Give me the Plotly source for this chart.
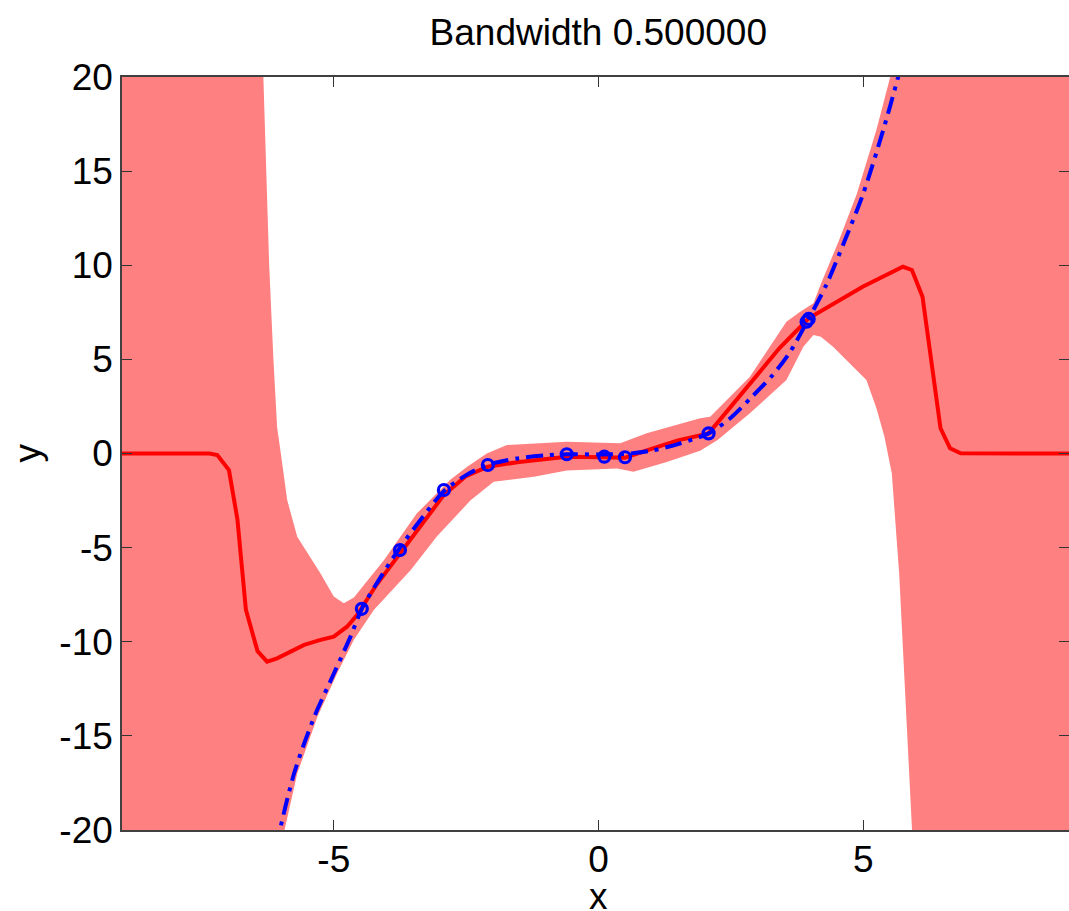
import plotly.graph_objects as go

# Observed data points (blue circles)
obs_x = [-4.47, -3.75, -2.92, -2.09, -0.60, 0.11, 0.50, 2.08, 3.93, 3.97]
obs_y = [-8.25, -5.13, -1.94, -0.61, -0.04, -0.17, -0.20, 1.07, 7.00, 7.15]

# True function (blue dash-dot)
true_x = [-6.10, -5.75, -5.37, -5.00, -4.68, -4.47, -4.10, -3.75, -3.30, -2.92, -2.50,
          -2.09, -1.50, -1.00, -0.60, 0.00, 0.50, 1.00, 1.50, 2.08, 2.50, 2.86, 3.30,
          3.62, 3.93, 4.31, 4.65, 5.00, 5.38, 5.66, 5.80]
true_y = [-21.0, -17.0, -14.0, -11.7, -9.7, -8.25, -6.5, -5.0, -3.3, -2.0, -1.15,
          -0.6, -0.25, -0.1, -0.04, -0.05, -0.02, 0.15, 0.5, 1.07, 1.9, 2.9, 4.2,
          5.4, 6.95, 9.0, 11.3, 13.8, 17.2, 20.0, 21.5]

# Predictive mean (red line)
mean_x = [-9.0, -7.35, -7.20, -6.98, -6.82, -6.66, -6.44, -6.26, -6.07, -5.56, -5.25,
          -5.00, -4.75, -4.56, -4.20, -3.74, -3.30, -2.92, -2.50, -2.09, -1.50, -1.00,
          -0.60, 0.11, 0.50, 1.00, 1.50, 2.08, 2.86, 3.42, 3.97, 4.99, 5.75, 5.92,
          6.12, 6.29, 6.46, 6.64, 6.84, 9.0]
mean_y = [0.0, 0.0, -0.08, -0.88, -3.5, -8.3, -10.5, -11.06, -10.88, -10.17, -9.9,
          -9.73, -9.2, -8.58, -7.0, -5.3, -3.6, -2.2, -1.2, -0.7, -0.45, -0.3,
          -0.17, -0.2, -0.22, 0.25, 0.7, 1.07, 3.7, 5.6, 7.18, 8.86, 9.92, 9.75,
          8.33, 4.97, 1.34, 0.28, 0.01, 0.0]

# Confidence band, upper boundary
upper_x = [-9.5, -6.40, -6.33, -6.28, -6.22, -6.14, -6.07, -6.00, -5.88, -5.69, -5.25, -5.00,
           -4.81, -4.62, -4.05, -3.43, -2.80, -2.48, -2.11, -1.73, -0.60, 0.41, 0.91,
           1.92, 2.11, 2.86, 3.55, 3.81, 4.06, 4.20, 4.54, 4.88, 5.25, 5.51, 5.70, 9.5]
upper_y = [60.0, 30.0, 20.0, 15.0, 10.0, 5.0, 1.4, 0.0, -2.47, -4.42, -6.37, -7.6,
           -7.96, -7.65, -5.66, -3.18, -1.4, -0.7, 0.0, 0.45, 0.63, 0.54, 1.07,
           1.87, 1.95, 4.08, 7.0, 7.53, 7.98, 9.0, 11.3, 13.8, 17.2, 20.0, 30.0, 60.0]

# Confidence band, lower boundary
lower_x = [-9.5, -6.20, -5.93, -5.69, -5.31, -4.94, -4.62, -4.24, -3.55, -3.05, -2.42,
           -1.98, -1.22, -0.60, 0.35, 0.66, 1.29, 1.92, 2.25, 2.86, 3.55, 3.87, 4.06,
           4.20, 4.43, 5.06, 5.25, 5.40, 5.54, 5.68, 5.78, 5.88, 5.92, 6.10, 9.5]
lower_y = [-60.0, -30.0, -20.0, -17.0, -14.0, -11.7, -9.9, -8.3, -6.2, -4.4, -2.5,
           -1.5, -1.23, -0.9, -0.8, -0.97, -0.45, 0.15, 0.72, 2.14, 3.9, 5.67, 6.29,
           6.2, 5.67, 3.9, 2.4, 0.9, -1.05, -6.4, -11.7, -17.0, -20.0, -30.0, -60.0]

x_ticks = [-5, 0, 5]
x_tick_labels = ["-5", "0", "5"]
y_ticks = [-20, -15, -10, -5, 0, 5, 10, 15, 20]
y_tick_labels = ["-20", "-15", "-10", "-5", "0", "5", "10", "15", "20"]

FONT = "Liberation Sans, Arial, sans-serif"

fig = go.Figure()

fig.add_trace(go.Scatter(
    x=upper_x + lower_x[::-1], y=upper_y + lower_y[::-1],
    fill="toself", fillcolor="#ff8080", line=dict(width=0),
    mode="lines", hoverinfo="skip", showlegend=False))

fig.add_trace(go.Scatter(
    x=mean_x, y=mean_y, mode="lines",
    line=dict(color="#ff0000", width=4), showlegend=False))

fig.add_trace(go.Scatter(
    x=true_x, y=true_y, mode="lines",
    line=dict(color="#0000ff", width=4, dash="17px,7px,4px,7px", shape="spline", smoothing=0.8),
    showlegend=False))

fig.add_trace(go.Scatter(
    x=obs_x, y=obs_y, mode="markers",
    marker=dict(symbol="circle-open", size=11, color="#0000ff", line=dict(width=3.2, color="#0000ff")),
    showlegend=False))

# invisible trace for the right-side tick axis
fig.add_trace(go.Scatter(x=[0], y=[0], yaxis="y2", mode="markers",
                         marker=dict(opacity=0), showlegend=False, hoverinfo="skip"))

axis_common = dict(showgrid=False, zeroline=False, ticks="inside", ticklen=10,
                   tickcolor="#333333", tickwidth=1, automargin=False,
                   tickfont=dict(family=FONT, size=37, color="#000000"))

fig.update_layout(
    width=1069, height=911,
    margin=dict(l=122, r=0, t=77, b=81),
    paper_bgcolor="white", plot_bgcolor="white",
    title=dict(text="Bandwidth 0.500000", x=(598.3 - 122) / 947, xanchor="center", xref="paper",
               y=1 - 32 / 911, yanchor="middle", yref="container",
               font=dict(family=FONT, size=37, color="#000000")),
    xaxis=dict(range=[-9, 8.887], tickvals=x_ticks, ticktext=x_tick_labels, showline=True,
               linecolor="#404040", linewidth=1.5, mirror="ticks", ticklabelstandoff=-4,
               **axis_common),
    yaxis=dict(range=[-20, 20], tickvals=y_ticks, ticktext=y_tick_labels, showline=True,
               linecolor="#404040", linewidth=1.5, mirror=False,
               **axis_common),
    yaxis2=dict(range=[-20, 20], tickvals=y_ticks, overlaying="y", side="right",
                showline=False, showticklabels=False, showgrid=False, zeroline=False,
                ticks="inside", ticklen=10, tickcolor="#333333", anchor="x"),
    annotations=[
        dict(text="x", xref="paper", yref="paper", x=(598.3 - 122) / 947, y=-0.088,
             xanchor="center", yanchor="middle", showarrow=False,
             font=dict(family=FONT, size=37, color="#000000")),
        dict(text="y", xref="paper", yref="paper", x=-0.1003, y=0.5, textangle=-90,
             xanchor="center", yanchor="middle", showarrow=False,
             font=dict(family=FONT, size=37, color="#000000")),
    ],
)

fig.write_html(
    "out.html",
    config={"displayModeBar": False},
    post_script="document.body.style.margin='0';document.body.style.overflow='hidden';",
)
